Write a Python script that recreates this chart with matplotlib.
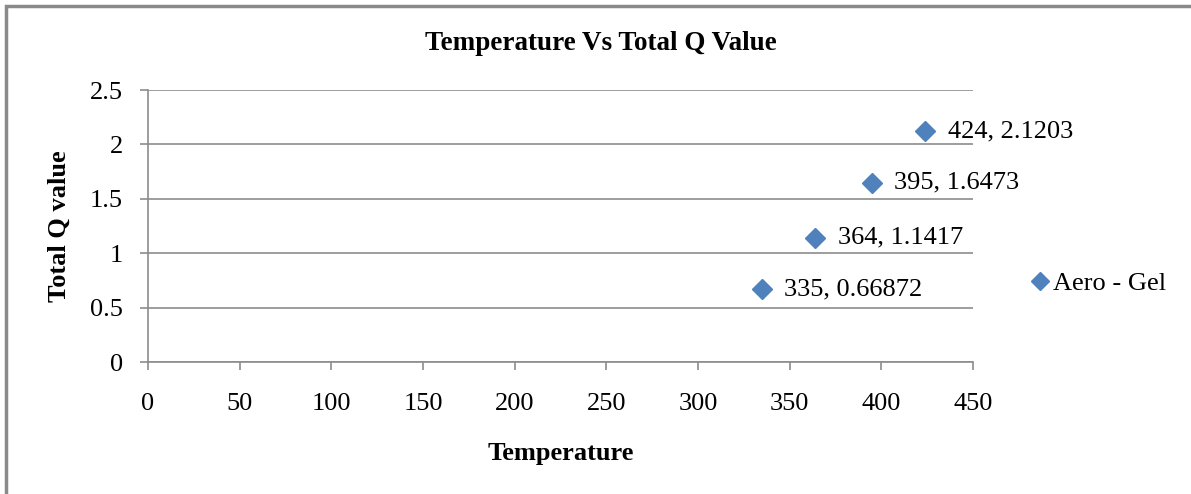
import matplotlib.pyplot as plt
from matplotlib.patches import Rectangle

temps = [335, 364, 395, 424]
q_values = [0.66872, 1.1417, 1.6473, 2.1203]
series_name = 'Aero - Gel'
x_ticks = [0, 50, 100, 150, 200, 250, 300, 350, 400, 450]
y_ticks = [0, 0.5, 1, 1.5, 2, 2.5]

plt.rcParams['font.family'] = ['Liberation Serif', 'DejaVu Serif']

fig = plt.figure(figsize=(11.91, 4.94), dpi=100)
ax = fig.add_axes([148 / 1191, 1 - 362 / 494, 825 / 1191, 272 / 494])

blue = '#4F81BD'
grey = '#8C8C8C'
fs = 19

ax.plot(temps, q_values, linestyle='none', marker='D', markersize=10,
        color=blue, label=series_name, clip_on=False)
for t, q in zip(temps, q_values):
    ax.annotate('%g, %s' % (t, q), (t, q), xytext=(16, 0), textcoords='offset points',
                va='center', ha='left', fontsize=fs, annotation_clip=False)

ax.set_xlim(0, 450)
ax.set_ylim(0, 2.5)
ax.set_xticks(x_ticks)
ax.set_yticks(y_ticks)
ax.set_yticklabels(['0', '0.5', '1', '1.5', '2', '2.5'])
ax.yaxis.grid(True, color=grey, linewidth=1.2)
ax.set_axisbelow(True)
for s in ['top', 'right']:
    ax.spines[s].set_visible(False)
for s in ['left', 'bottom']:
    ax.spines[s].set_color(grey)
    ax.spines[s].set_linewidth(1.2)
ax.tick_params(axis='both', colors=grey, labelcolor='black', labelsize=fs,
               length=6, width=1.2, direction='out')
ax.tick_params(axis='x', pad=16)
ax.tick_params(axis='y', pad=12)

fig.text(601 / 1191, 1 - 44 / 494, 'Temperature Vs Total Q Value', fontsize=19.5,
         fontweight='bold', ha='center', va='center')
ax.set_xlabel('Temperature', fontsize=fs, fontweight='bold', labelpad=20)
ax.set_ylabel('Total Q value', fontsize=fs, fontweight='bold', labelpad=14)

leg = ax.legend(loc='center left', bbox_to_anchor=(1.065, 0.29), frameon=False,
                fontsize=fs, handletextpad=0.0, handlelength=1.0, markerscale=0.9,
                borderpad=0, borderaxespad=0)

fig.patches.append(Rectangle((6 / 1191, -0.05), 1.2, 1.05 - 6 / 494,
                             transform=fig.transFigure, fill=False,
                             edgecolor='#8A8A8A', linewidth=2.5))

fig.savefig('out.png', dpi=100)
